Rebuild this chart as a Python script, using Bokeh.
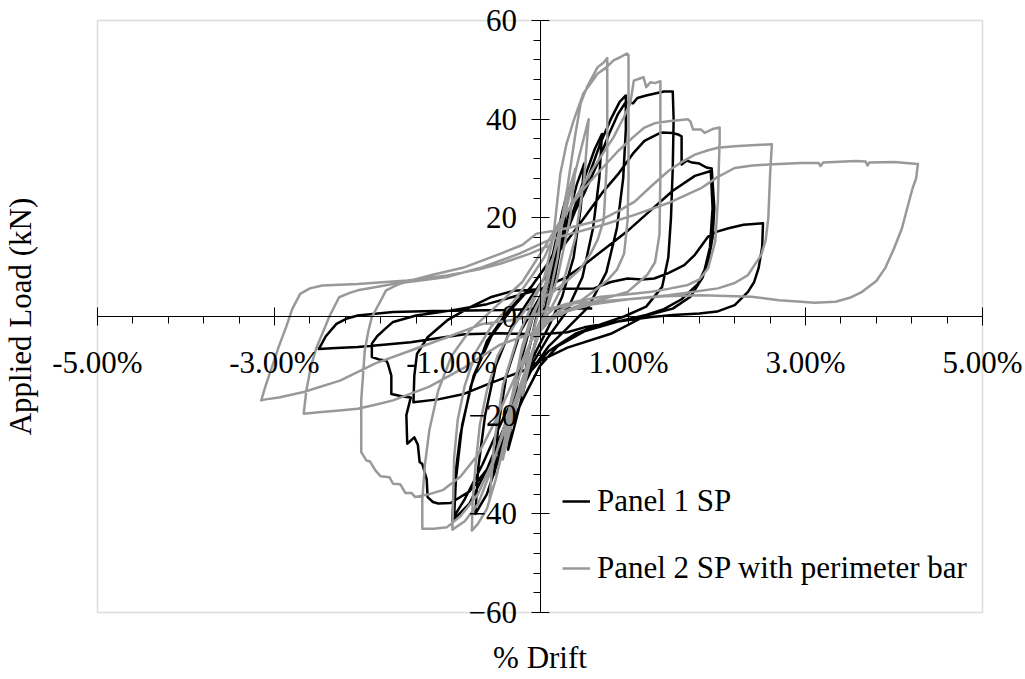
from math import pi
from bokeh.plotting import figure
from bokeh.models import (FixedTicker, PrintfTickFormatter, Label, Legend,
                          LegendItem, Range1d, BoxAnnotation)
from bokeh.embed import file_html
from bokeh.resources import INLINE

FONT = "Liberation Serif"

# ---------------- data: (% drift, applied load kN) ----------------
# Panel 1 SP (black)
p1_small = [(0, 0), (0.08, 6), (0.15, 12), (0.2, 16), (0.15, 9), (0.05, 1), (-0.05, -5),
            (-0.15, -12), (-0.2, -16), (-0.14, -8), (-0.04, 0), (0.06, 6), (0.15, 13),
            (0.25, 21), (0.32, 26), (0.27, 18), (0.17, 8), (0.05, 0), (-0.08, -7),
            (-0.2, -16), (-0.3, -23), (-0.36, -27), (-0.3, -18), (-0.2, -8), (-0.08, 0),
            (0.05, 5)]
p1_c045 = [(0.15, 10), (0.3, 19), (0.42, 27), (0.5, 31), (0.46, 22), (0.38, 12), (0.25, 4),
           (0.1, -2), (-0.1, -9), (-0.3, -18), (-0.45, -27), (-0.52, -32), (-0.47, -22),
           (-0.38, -12), (-0.22, -3), (0, 4)]
p1_c065 = [(0.2, 12), (0.35, 20), (0.5, 28), (0.62, 34), (0.7, 37), (0.67, 28), (0.6, 18),
           (0.48, 8), (0.3, 1), (0.1, -4), (-0.1, -10), (-0.3, -19), (-0.45, -28),
           (-0.6, -36), (-0.73, -40), (-0.7, -31), (-0.62, -20), (-0.5, -10),
           (-0.32, -2), (-0.1, 4)]
p1_c097 = [(0.1, 9), (0.3, 17), (0.5, 26), (0.68, 35), (0.8, 40), (0.9, 43.5), (0.97, 44.8),
           (0.97, 38), (0.94, 28), (0.87, 18), (0.75, 9), (0.55, 2), (0.3, -2.5),
           (0.1, -6), (-0.1, -11), (-0.35, -20), (-0.6, -31), (-0.8, -38), (-0.99, -41.4),
           (-0.97, -34), (-0.9, -24), (-0.78, -14), (-0.6, -5), (-0.35, 1.5), (-0.1, 6)]
p1_c150 = [(0.1, 11), (0.3, 18), (0.5, 25), (0.65, 31), (0.78, 37), (0.88, 41),
           (0.97, 43.5), (1.05, 43.2), (1.1, 44.3), (1.2, 44.8), (1.3, 45.2), (1.4, 45.6),
           (1.5, 45.6), (1.51, 40), (1.5, 30), (1.48, 20), (1.45, 12), (1.38, 6), (1.2, 2),
           (0.95, 0), (0.7, -1.5), (0.4, -3.5), (0.1, -7), (-0.15, -12), (-0.4, -20),
           (-0.65, -30), (-0.85, -37), (-0.97, -40.5), (-0.95, -33), (-0.88, -22),
           (-0.75, -12), (-0.55, -4), (-0.3, 2), (-0.1, 6)]
p1_c200 = [(0.05, 9.8), (0.25, 14), (0.5, 20), (0.7, 25), (0.88, 28.8), (1.05, 33),
           (1.18, 35.6), (1.37, 37.3), (1.5, 37.2), (1.56, 36.9), (1.6, 36.5), (1.6, 30.8),
           (1.66, 31.6), (1.72, 31.2), (1.8, 31), (1.88, 30.2), (1.94, 30.0), (1.97, 22),
           (1.95, 16), (1.9, 11), (1.78, 6.5), (1.6, 3.5), (1.4, 1.5), (1.2, 0.3),
           (0.88, -1), (0.5, -3), (0.2, -6), (0, -10), (-0.2, -17), (-0.4, -25),
           (-0.6, -31), (-0.8, -35.5), (-1.01, -37.8), (-1.15, -37.9), (-1.21, -37.6),
           (-1.27, -36.6), (-1.28, -33), (-1.33, -29.9), (-1.36, -29.5), (-1.38, -26),
           (-1.42, -24.5), (-1.5, -25.8), (-1.51, -20), (-1.46, -16.4), (-1.55, -16.2),
           (-1.68, -15.7), (-1.68, -12), (-1.72, -9.5), (-1.74, -8.9), (-1.82, -8.7),
           (-1.9, -8.2), (-1.9, -5.5), (-1.84, -4), (-1.75, -2.5), (-1.66, -1.1),
           (-1.4, 0.2), (-1.0, 1.2), (-0.6, 2.5), (-0.3, 4)]
p1_c200b = [(0, 5.5), (0.3, 8), (0.5, 10.5), (0.75, 14), (1.0, 17.5), (1.25, 21.5),
            (1.5, 25.5), (1.75, 28.5), (1.93, 29.5), (1.95, 22), (1.92, 14), (1.84, 8),
            (1.7, 4), (1.5, 1.6), (1.2, 0.2), (0.8, -3.5), (0.31, -6.3), (0, -9),
            (-0.19, -11), (-0.56, -13.5), (-0.86, -15.7), (-1.15, -16.8), (-1.43, -17.4),
            (-1.42, -12), (-1.39, -7.6), (-1.27, -4.2), (-1.05, -0.8), (-0.8, 1.8),
            (-0.56, 3.9), (-0.3, 5.2), (0, 5.5), (0.3, 5.6)]
p1_c250 = [(0.61, 5.7), (0.8, 7), (0.99, 7.7), (1.15, 7.5), (1.29, 7.7), (1.45, 8.8),
           (1.63, 10.4), (1.75, 12.5), (1.9, 16.2), (2.0, 17.2), (2.13, 17.9), (2.3, 18.6),
           (2.45, 18.8), (2.52, 18.9), (2.51, 14), (2.47, 9.8), (2.42, 7), (2.35, 5.0),
           (2.2, 2.3), (2.0, 1.0), (1.8, 0.6), (1.5, 0.3), (1.26, -0.1), (0.88, -1),
           (0.5, -2.2), (0.31, -3.2), (0, -3.6), (-0.45, -3.4), (-0.85, -3.6), (-1.2, -4.5),
           (-1.46, -5.2), (-1.8, -5.8), (-2.06, -6.2), (-2.3, -6.4), (-2.5, -6.6),
           (-2.42, -4), (-2.3, -1.5), (-2.18, -0.4), (-2.06, 0.2), (-1.66, 0.9),
           (-1.2, 1.1), (-0.8, 1.2), (-0.4, 1.3), (-0.1, 1.5), (0.2, 1.6), (0.59, 1.6)]

# Panel 2 SP with perimeter bar (grey)
p2_small = [(0, 0), (0.1, 8), (0.2, 16), (0.25, 20), (0.2, 12), (0.08, 2), (-0.05, -5),
            (-0.15, -12), (-0.2, -16), (-0.12, -6), (0, 2), (0.12, 10), (0.25, 19),
            (0.35, 27), (0.4, 30), (0.34, 20), (0.2, 8), (0.05, 0), (-0.1, -8),
            (-0.25, -17), (-0.38, -26), (-0.42, -29), (-0.35, -19), (-0.22, -8),
            (-0.08, 0), (0.05, 6)]
p2_c055 = [(0.15, 12), (0.3, 22), (0.45, 33), (0.55, 40), (0.5, 28), (0.4, 16), (0.25, 6),
           (0.05, -1), (-0.15, -10), (-0.35, -22), (-0.5, -33), (-0.57, -37),
           (-0.52, -26), (-0.42, -14), (-0.25, -4), (-0.05, 4)]
p2_c076 = [(0.15, 12), (0.25, 20), (0.31, 26.2), (0.4, 37), (0.46, 43.2), (0.53, 46.5),
           (0.65, 50.5), (0.72, 51.5), (0.76, 52.4), (0.76, 43), (0.76, 33), (0.74, 26),
           (0.72, 19.5), (0.65, 15.5), (0.57, 12.7), (0.45, 9.5), (0.31, 7.3), (0.15, 5),
           (0, 3.5), (-0.1, 0), (-0.2, -6), (-0.3, -15), (-0.4, -25), (-0.5, -33),
           (-0.6, -39), (-0.7, -42), (-0.77, -43.4), (-0.76, -37), (-0.73, -30.5),
           (-0.68, -22), (-0.6, -15), (-0.48, -8), (-0.3, -2), (-0.1, 3)]
p2_c098 = [(0.05, 8), (0.15, 16), (0.23, 29), (0.3, 35), (0.38, 39.7), (0.49, 45.2),
           (0.65, 49.2), (0.75, 50.5), (0.83, 51.9), (0.9, 52.5), (0.98, 53.3), (1.0, 53),
           (1.0, 40), (1.0, 28), (0.99, 19.5), (0.95, 12.7), (0.87, 9.5), (0.76, 7.3),
           (0.6, 5), (0.46, 3.2), (0.25, 1.5), (0.05, -1), (-0.1, -5), (-0.25, -13),
           (-0.4, -22), (-0.55, -31), (-0.7, -38), (-0.85, -41.5), (-0.99, -43.2),
           (-0.98, -36), (-0.97, -28.5), (-0.93, -21), (-0.85, -14), (-0.72, -7),
           (-0.55, -2), (-0.3, 3), (-0.1, 8)]
p2_c136 = [(0.05, 12), (0.2, 18), (0.4, 24), (0.6, 30), (0.83, 36.3), (0.95, 40.5),
           (1.02, 43.2), (1.06, 47.8), (1.12, 48.2), (1.17, 48.5), (1.2, 46.5), (1.25, 47.5),
           (1.3, 47.3), (1.36, 47.7), (1.36, 40), (1.36, 28), (1.35, 16.6), (1.3, 11),
           (1.21, 8.4), (0.99, 5), (0.7, 3.5), (0.4, 2), (0.15, 0), (0, -3), (-0.15, -10),
           (-0.3, -18), (-0.5, -28), (-0.7, -36), (-0.9, -40.5), (-1.05, -42.7),
           (-1.2, -43), (-1.33, -43), (-1.33, -37), (-1.3, -30), (-1.25, -23),
           (-1.15, -15), (-1.0, -8), (-0.8, -3), (-0.5, 2), (-0.2, 7)]
p2_c203 = [(0.05, 14), (0.25, 20), (0.5, 26), (0.7, 30), (0.88, 33.5), (1.05, 36.3),
           (1.18, 38.3), (1.3, 39.2), (1.45, 39.6), (1.67, 40.0), (1.7, 39.5), (1.73, 37.9),
           (1.82, 37.9), (1.86, 37.2), (1.95, 38), (2.03, 38.3), (2.03, 35.6), (2.02, 30),
           (2.01, 23.3), (1.98, 15.2), (1.9, 9.8), (1.8, 7.5), (1.67, 6.4), (1.45, 5.6),
           (1.26, 5), (1.0, 4.5), (0.69, 4), (0.4, 3), (0.15, 1.5), (0, -1), (-0.15, -7),
           (-0.3, -13), (-0.5, -21), (-0.7, -28), (-0.9, -32.5), (-1.1, -35.2),
           (-1.25, -36), (-1.41, -36.6), (-1.45, -35.8), (-1.52, -35.8), (-1.58, -34),
           (-1.66, -33.9), (-1.7, -32.6), (-1.8, -32.4), (-1.86, -31.2), (-1.92, -29.4),
           (-1.96, -29.2), (-2.02, -27.5), (-2.02, -22), (-2.02, -17), (-2.0, -12),
           (-1.98, -6.9), (-1.94, -3), (-1.9, -0.1), (-1.8, 3.2), (-1.74, 5.3),
           (-1.6, 6.5), (-1.46, 7.3), (-1.2, 8.5), (-0.85, 10), (-0.45, 12.7),
           (-0.2, 14.5), (-0.04, 16.8)]
p2_c262 = [(0.2, 17.5), (0.45, 18.5), (0.68, 19.5), (0.9, 21.5), (1.07, 23.3), (1.25, 26.3),
           (1.45, 29.5), (1.6, 31.3), (1.75, 32.8), (1.9, 33.7), (2.01, 34.2), (2.2, 34.5),
           (2.39, 34.7), (2.5, 34.8), (2.62, 34.9), (2.6, 28.8), (2.58, 20), (2.55, 15.5),
           (2.5, 12.5), (2.35, 8.4), (2.2, 6.8), (2.01, 5.7), (1.7, 4.9), (1.45, 4.3),
           (1.0, 3.5), (0.6, 2.5), (0.3, 1), (0.1, -1), (-0.1, -3.5), (-0.45, -5.7),
           (-0.85, -10.3), (-1.25, -14.2), (-1.66, -17), (-1.86, -17.9), (-2.06, -18.7),
           (-2.3, -19.1), (-2.5, -19.4), (-2.67, -19.7), (-2.64, -15), (-2.59, -10.3),
           (-2.53, -6.5), (-2.46, -3.5), (-2.38, 0), (-2.27, 3.9), (-2.15, 4.8),
           (-2.06, 5.3), (-1.66, 6.6), (-1.05, 8), (-0.65, 10), (-0.24, 12.7),
           (0.1, 15.5)]
p2_c427 = [(0.31, 16.6), (0.7, 18.5), (1.07, 20.6), (1.45, 23), (1.82, 26), (2.0, 28.2),
           (2.2, 30.1), (2.4, 30.6), (2.58, 30.8), (2.95, 31.1), (3.15, 31.1), (3.17, 30.5),
           (3.2, 31.2), (3.57, 31.5), (3.68, 31.4), (3.7, 30.6), (3.72, 31.2), (4.0, 31.3),
           (4.27, 30.9), (4.25, 28), (4.21, 26), (4.15, 22), (4.09, 17.9), (4.0, 13.8),
           (3.9, 9.8), (3.8, 7.2), (3.64, 5), (3.5, 3.8), (3.34, 3), (3.1, 2.8), (2.95, 3),
           (2.7, 3.3), (2.39, 4), (1.82, 4.3), (1.4, 4.1), (1.07, 3.6), (0.7, 3.1),
           (0.31, 2.6), (0.1, 1.5), (-0.1, 0), (-0.35, -0.8), (-0.65, -1.5), (-1.05, -4.2),
           (-1.46, -6.9), (-1.86, -9.5), (-2.26, -13), (-2.67, -15.3), (-2.95, -16.4),
           (-3.1, -16.8), (-3.15, -17), (-3.1, -14), (-3.03, -10.3), (-2.95, -6),
           (-2.87, -2.2), (-2.8, 1.5), (-2.71, 4.6), (-2.6, 5.7), (-2.46, 6.3),
           (-2.06, 6.6), (-1.5, 7.3), (-1.05, 8.3), (-0.7, 9.5), (-0.45, 10.7),
           (-0.12, 12.7), (0.12, 14.5)]

x_major_ticks = [-5, -3, -1, 1, 3, 5]
x_minor_ticks = [-5, -4.6, -4.2, -3.8, -3.4, -3, -2.6, -2.2, -1.8, -1.4, -1, -0.6, -0.2,
                 0.2, 0.6, 1, 1.4, 1.8, 2.2, 2.6, 3, 3.4, 3.8, 4.2, 4.6, 5]
y_major_ticks = [-60, -40, -20, 0, 20, 40, 60]
y_minor_ticks = [-60, -56, -52, -48, -44, -40, -36, -32, -28, -24, -20, -16, -12, -8, -4,
                 0, 4, 8, 12, 16, 20, 24, 28, 32, 36, 40, 44, 48, 52, 56, 60]
x_limits = (-5, 5)
y_limits = (-60, 60)

series_names = ["Panel 1 SP", "Panel 2 SP with perimeter bar"]
x_title = "% Drift"
y_title = "Applied Load (kN)"

p1 = p1_small + p1_c045 + p1_c065 + p1_c097 + p1_c150 + p1_c200 + p1_c200b + p1_c250
p2 = p2_small + p2_c055 + p2_c076 + p2_c098 + p2_c136 + p2_c203 + p2_c262 + p2_c427

# ---------------- layout (pixels) ----------------
W, H = 1025, 676                 # canvas size
BOX_L, BOX_R, BOX_T, BOX_B = 97, 982, 20, 612   # chart box inside the canvas
sx = (BOX_R - BOX_L) / (x_limits[1] - x_limits[0])
sy = (BOX_B - BOX_T) / (y_limits[1] - y_limits[0])
xr = Range1d(x_limits[0] - BOX_L / sx, x_limits[1] + (W - BOX_R) / sx)
yr = Range1d(y_limits[0] - (H - BOX_B) / sy, y_limits[1] + BOX_T / sy)

p = figure(frame_width=W, frame_height=H, x_range=xr, y_range=yr,
           min_border=0, output_backend="svg", toolbar_location=None)
p.background_fill_color = "white"
p.border_fill_color = "white"
p.outline_line_color = None
p.grid.visible = False

p.add_layout(BoxAnnotation(left=x_limits[0], right=x_limits[1],
                           bottom=y_limits[0], top=y_limits[1],
                           fill_color=None, line_color="#8c8c8c", line_width=1.5,
                           level="underlay"))

r1 = p.line([d for d, _ in p1], [l for _, l in p1], line_color="#000000",
            line_width=2.5, line_join="round")
r2 = p.line([d for d, _ in p2], [l for _, l in p2], line_color="#999999",
            line_width=2.5, line_join="round")

for ax in (p.xaxis[0], p.yaxis[0]):
    ax.fixed_location = 0
    ax.axis_line_color = "black"
    ax.axis_line_width = 1
    ax.major_tick_in = 9
    ax.major_tick_out = 9
    ax.minor_tick_in = 0
    ax.minor_tick_out = 7
    ax.major_tick_line_color = "black"
    ax.minor_tick_line_color = "black"
    ax.major_label_text_font = FONT
    ax.major_label_text_font_size = "31px"
    ax.major_label_text_color = "black"

p.xaxis[0].bounds = x_limits
p.xaxis[0].ticker = FixedTicker(ticks=x_major_ticks, minor_ticks=x_minor_ticks)
p.xaxis[0].formatter = PrintfTickFormatter(format="%.2f%%")
p.xaxis[0].major_label_standoff = 19
p.yaxis[0].bounds = y_limits
p.yaxis[0].ticker = FixedTicker(ticks=y_major_ticks, minor_ticks=y_minor_ticks)
p.yaxis[0].major_label_standoff = 14

p.add_layout(Label(x=0, y=y_limits[0] - (674 - BOX_B) / sy, text=x_title,
                   text_align="center", text_baseline="bottom", text_font=FONT,
                   text_font_size="31px", text_color="black"))
p.add_layout(Label(x=x_limits[0] - (BOX_L - 20) / sx, y=0, text=y_title, angle=pi / 2,
                   text_align="center", text_baseline="alphabetic", text_font=FONT,
                   text_font_size="31px", text_color="black"))

legend = Legend(items=[LegendItem(label=series_names[0], renderers=[r1]),
                       LegendItem(label=series_names[1], renderers=[r2])],
                location=(562, 90), padding=0, margin=0, spacing=31,
                glyph_width=28, glyph_height=36, label_height=36, label_standoff=7,
                label_text_font=FONT, label_text_font_size="31px",
                label_text_color="black",
                border_line_color=None, background_fill_alpha=0)
p.add_layout(legend)

open("out.html", "w").write(file_html(p, INLINE))
